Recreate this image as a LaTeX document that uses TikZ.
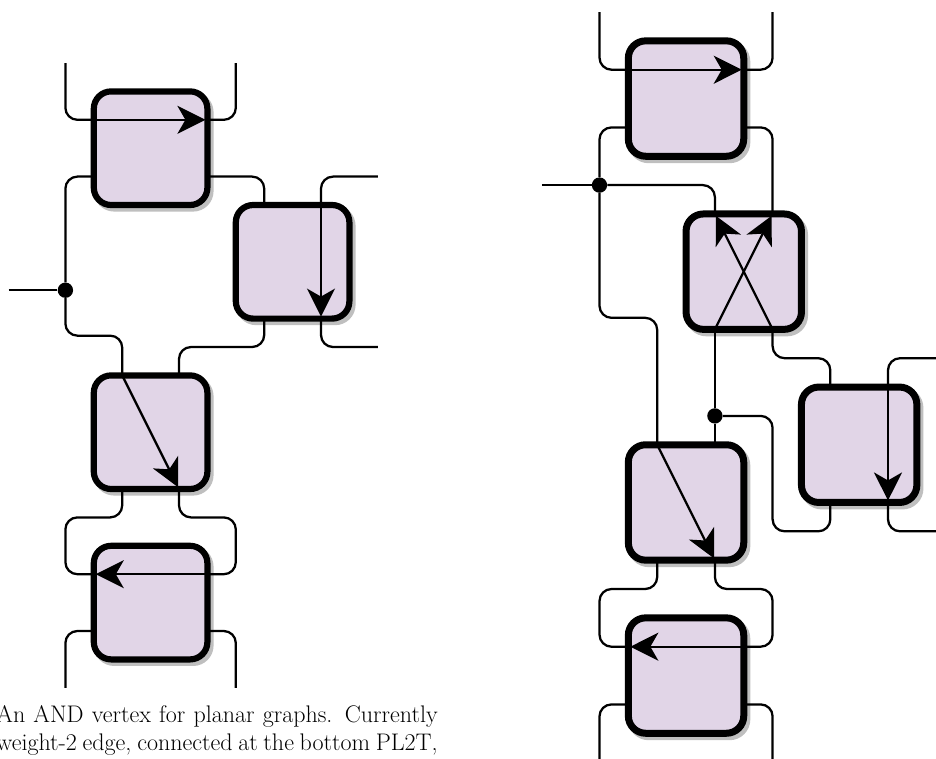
\documentclass[tikz,border=0pt]{standalone}
\usepackage{fontspec}
\usetikzlibrary{arrows.meta,calc,shadows}
\def\unit{56.8}
\def\edge{6.2}
\def\gadget(#1)(#2:#3){
	\node[gadget] (#1) at (#2,#3) {};
	\coordinate (#1tl) at ($(#2,#3)+(-0.5,-1)$);
	\coordinate (#1tr) at ($(#2,#3)+(0.5,-1)$);
	\coordinate (#1bl) at ($(#2,#3)+(-0.5,1)$);
	\coordinate (#1br) at ($(#2,#3)+(0.5,1)$);
	\coordinate (#1ln) at ($(#2,#3)+(-1,-0.5)$);
	\coordinate (#1ls) at ($(#2,#3)+(-1,0.5)$);
	\coordinate (#1rn) at ($(#2,#3)+(1,-0.5)$);
	\coordinate (#1rs) at ($(#2,#3)+(1,0.5)$);
}
\definecolor{gadgetfill}{HTML}{E1D5E7}
\tikzset{
	gadget/.style={draw=black, fill=gadgetfill, rounded corners=13pt, line width=0.75*\edge pt, minimum size=1.5*\unit pt, inner sep=0pt, outer sep=0pt,
		drop shadow={shadow xshift=2.3pt, shadow yshift=-2.6pt, fill=black!25, draw=black!25, opacity=1}},
	wire/.style={line width=1.7pt, rounded corners=9pt},
	flow/.style={line width=1.7pt, shorten >=1.5pt, -{Stealth[length=21pt, width=21pt, inset=6pt, sep=0pt]}},
	joint/.style={circle, fill=black, inner sep=0pt, minimum size=11.5pt},
	grid/.style={shift={#1}, x=\unit*0.75pt, y=-\unit*0.75pt},
}

\begin{document}
\begin{tikzpicture}[x=0.75pt, y=-0.75pt]
	\useasboundingbox (0,0) rectangle (936,758);
	\clip (0,0) rectangle (936,758);

	\node[anchor=base east, align=left, inner sep=0pt, font=\fontsize{18}{20.3}\selectfont] (caption) at (438,750) {\makebox[331pt][s]{An AND vertex for planar graphs. Currently}\\\makebox[331pt][s]{weight-2 edge, connected at the bottom PL2T,}};

	% left
	\begin{scope}[grid={(65.4,63)}]
		\gadget(a)(1.5:1.5);
		\gadget(b)(4:3.5);
		\gadget(c)(1.5:6.5);
		\gadget(d)(1.5:9.5);

		\node[joint] (ja) at (0,4) {};
		\coordinate (inleft) at (-1,4);
		\coordinate (atl) at (0,0);
		\coordinate (atr) at (3,0);
		\coordinate (brn) at (5.5,2);
		\coordinate (brs) at (5.5,5);
		\coordinate (dbl) at (0,11);
		\coordinate (dbr) at (3,11);
		\coordinate (rowa) at (0.5,4.8);
		\coordinate (rowb) at (2.5,5);
		\coordinate (rowc) at (0.5,8);
		\coordinate (rowd) at (2.5,8);

		\draw[wire] (atl) |- (aln);
		\draw[wire] (atr) |- (arn);
		\draw[flow] (aln) -- (arn);
		\draw[wire] (als) -| (ja);
		\draw[wire] (ars) -| (btl);
		\draw[wire] (inleft) -- (ja);
		\draw[wire] (ja) |- (rowa) -| (ctl);
		\draw[wire] (brn) -| (btr);
		\draw[flow] (btr) -- (bbr);
		\draw[wire] (bbr) |- (brs);
		\draw[wire] (bbl) |- (rowb) -| (ctr);
		\draw[flow] (ctl) -- (cbr);
		\draw[wire] (cbl) |- (rowc) -| (0,9) -- (dln);
		\draw[wire] (cbr) |- (rowd) -| (3,9) -- (drn);
		\draw[flow] (drn) -- (dln);
		\draw[wire] (dls) -| (dbl);
		\draw[wire] (drs) -| (dbr);
	\end{scope}

	% right
	\def\unit{57.7}
	\def\edge{7}
	\begin{scope}[grid={(599.5,12)}]
		\gadget(p)(1.5:1.5);
		\gadget(q)(2.5:4.5);
		\gadget(r)(4.5:7.5);
		\gadget(s)(1.5:8.5);
		\gadget(t)(1.5:11.5);

		\node[joint] (jp) at (0,3) {};
		\node[joint] (jq) at (2,7) {};
		\coordinate (inright) at (-1,3);
		\coordinate (ptl) at (0,0);
		\coordinate (ptr) at (3,0);
		\coordinate (rrn) at (6,6);
		\coordinate (rrs) at (6,9);
		\coordinate (tbl) at (0,13);
		\coordinate (tbr) at (3,13);
		\coordinate (rowe) at (0.5,5.3);
		\coordinate (rowf) at (3.5,6);
		\coordinate (rowg) at (3.5,9);
		\coordinate (rowh) at (0.5,10);
		\coordinate (rowi) at (2.5,10);

		\draw[wire] (ptl) |- (pln);
		\draw[wire] (ptr) |- (prn);
		\draw[flow] (pln) -- (prn);
		\draw[wire] (pls) -| (jp);
		\draw[wire] (prs) -| (qtr);
		\draw[wire] (inright) -- (jp);
		\draw[wire] (jp) -| (qtl);
		\draw[wire] (jp) |- (rowe) -| (stl);
		\draw[flow] (qbl) -- (qtr);
		\draw[flow] (qbr) -- (qtl);
		\draw[wire] (qbl) -- (jq);
		\draw[wire] (jq) -- (str);
		\draw[wire] (qbr) |- (rowf) -| (rtl);
		\draw[wire] (jq) -| (3,9) -- (rowg) -| (rbl);
		\draw[wire] (rrn) -| (rtr);
		\draw[flow] (rtr) -- (rbr);
		\draw[wire] (rbr) |- (rrs);
		\draw[flow] (stl) -- (sbr);
		\draw[wire] (sbl) |- (rowh) -| (0,11) -- (tln);
		\draw[wire] (sbr) |- (rowi) -| (3,11) -- (trn);
		\draw[flow] (trn) -- (tln);
		\draw[wire] (tls) -| (tbl);
		\draw[wire] (trs) -| (tbr);
	\end{scope}
\end{tikzpicture}
\end{document}
